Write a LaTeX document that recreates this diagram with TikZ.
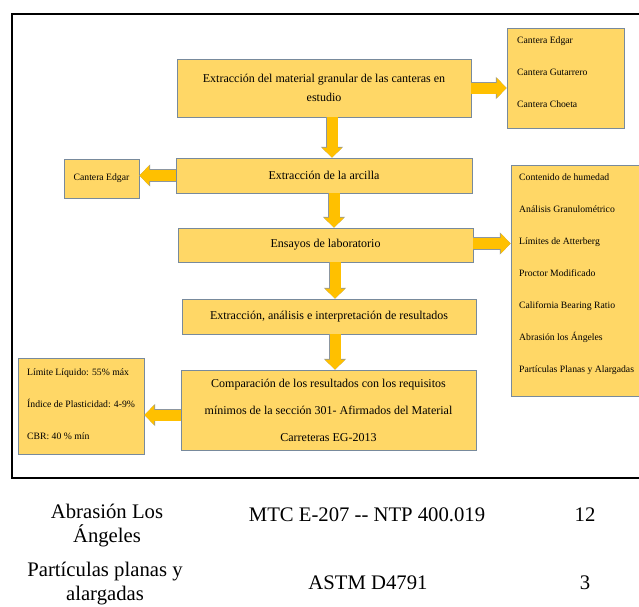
\documentclass[tikz,border=0pt]{standalone}
\usepackage{fontspec}
\setmainfont{Liberation Serif}
\usetikzlibrary{arrows.meta}
\definecolor{boxfill}{RGB}{255,215,102}
\definecolor{boxedge}{RGB}{120,138,156}
\definecolor{arrowfill}{RGB}{255,192,0}
\definecolor{arrowedge}{RGB}{140,150,160}
\tikzset{
  box/.style={draw=boxedge, line width=0.8pt, fill=boxfill, inner sep=0pt, align=center},
  bigtext/.style={font=\fontsize{12}{19}\selectfont},
  smalltext/.style={font=\fontsize{9.7}{32}\selectfont, align=left, inner sep=0pt, anchor=north west},
  tabletext/.style={font=\fontsize{20.7}{24}\selectfont, align=center, inner sep=0pt},
  blockarrow/.style={line width=11pt, draw=arrowfill,
    -{Triangle[length=10pt,width=20pt]},
    preaction={draw=arrowedge, line width=12.2pt, -{Triangle[length=10.8pt,width=21.6pt]}}}
}
\begin{document}
\begin{tikzpicture}[x=1pt,y=-1pt]
\useasboundingbox (0,0) rectangle (639,606);
\clip (0,0) rectangle (639,606);
% frame
\draw[line width=2.6pt] (12,14) rectangle (680,478);
% main boxes
\node[box, bigtext, minimum width=294pt, minimum height=58pt] (b1) at (324,88)
  {Extracción del material granular de las canteras en\\estudio};
\node[box, bigtext, minimum width=296pt, minimum height=35pt] (b2) at (324,175.5)
  {Extracción de la arcilla};
\node[box, bigtext, minimum width=295pt, minimum height=34pt] (b3) at (325.5,245)
  {Ensayos de laboratorio};
\node[box, bigtext, minimum width=294pt, minimum height=35pt] (b4) at (329,316.5)
  {Extracción, análisis e interpretación de resultados};
\node[box, font=\fontsize{12}{27}\selectfont, minimum width=295pt, minimum height=80pt] (b5) at (328.5,410)
  {Comparación de los resultados con los requisitos\\mínimos de la sección 301- Afirmados del Material\\Carreteras EG-2013};
% side boxes
\node[box, minimum width=117pt, minimum height=100pt] (qa) at (565.5,78) {};
\node[smalltext] (qat) at (517,37) {Cantera Edgar\\Cantera Gutarrero\\Cantera Choeta};
\node[box, font=\fontsize{9.7}{12}\selectfont, minimum width=75pt, minimum height=39pt] (qe) at (101.5,178.5) {Cantera Edgar};
\node[box, minimum width=150pt, minimum height=231pt] (tl) at (586,280.5) {};
\node[smalltext] (tlt) at (519,174) {Contenido de humedad\\Análisis Granulométrico\\Límites de Atterberg\\Proctor Modificado\\California Bearing Ratio\\Abrasión los Ángeles\\Partículas Planas y Alargadas};
\node[box, minimum width=126pt, minimum height=96pt] (lim) at (81,406) {};
\node[smalltext] (limt) at (27,369) {Límite Líquido: 55\% máx\\Índice de Plasticidad: 4-9\%\\CBR: 40 \% mín};
% arrows
\draw[blockarrow] (b1.east) -- (b1.east -| qa.west);
\draw[blockarrow] ([xshift=8pt]b1.south) -- ([xshift=8pt]b1.south |- b2.north);
\draw[blockarrow] (b2.west) -- (b2.west -| qe.east);
\draw[blockarrow] ([xshift=10pt]b2.south) -- ([xshift=10pt]b2.south |- b3.north);
\draw[blockarrow] ([yshift=1.5pt]b3.east) -- ([yshift=1.5pt]b3.east -| tl.west);
\draw[blockarrow] ([xshift=9.5pt]b3.south) -- ([xshift=9.5pt]b3.south |- b4.north);
\draw[blockarrow] ([xshift=6pt]b4.south) -- ([xshift=6pt]b4.south |- b5.north);
\draw[blockarrow] ([yshift=-5pt]b5.west) -- ([yshift=-5pt]b5.west -| lim.east);
% table below
\node[tabletext] (t11) at (107,526) {Abrasión Los\\Ángeles};
\node[tabletext] (t12) at (367,515) {MTC E-207 -{}- NTP 400.019};
\node[tabletext] (t13) at (585,515) {12};
\node[tabletext] (t21) at (105,584) {Partículas planas y\\alargadas};
\node[tabletext] (t22) at (368,583) {ASTM D4791};
\node[tabletext] (t23) at (585,583) {3};
\end{tikzpicture}
\end{document}
